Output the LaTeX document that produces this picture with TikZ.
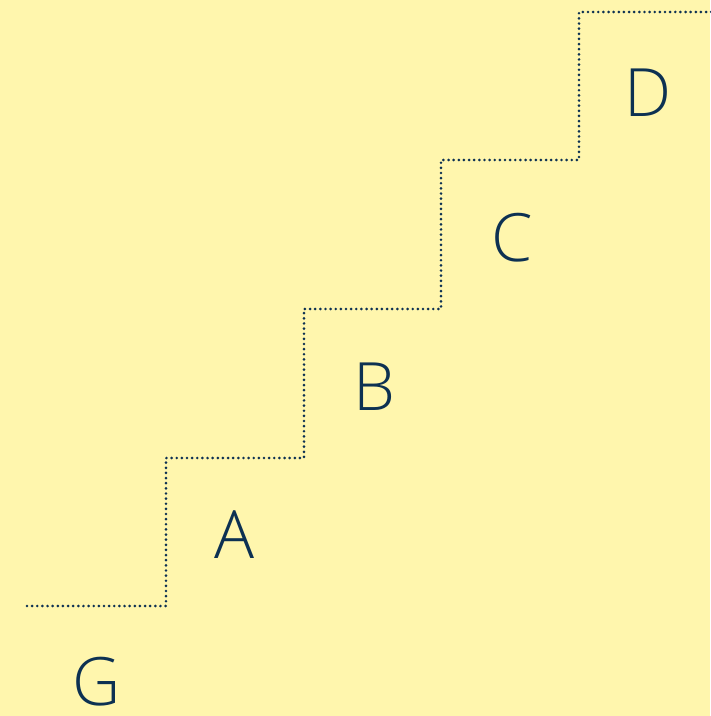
\documentclass[tikz,border=0pt]{standalone}
\usepackage{fontspec}
\setmainfont{Open Sans Light}
\definecolor{bg}{HTML}{FFF6AD}
\definecolor{ink}{HTML}{0D3152}
\begin{document}
\begin{tikzpicture}[x=0.75pt,y=-0.75pt,
  stair/.style={draw=ink,line width=2.2pt,line cap=round,dash pattern=on 0pt off 3.85pt},
  lbl/.style={text=ink,font=\fontsize{50}{50}\selectfont,inner sep=0pt,anchor=center}]
\fill[bg] (0,0) rectangle (710,716);
\useasboundingbox (0,0) rectangle (710,716);
\coordinate (s0) at (27,606);
\coordinate (s1) at (166,606);
\coordinate (s2) at (166,458);
\coordinate (s3) at (304,458);
\coordinate (s4) at (304,309);
\coordinate (s5) at (441,309);
\coordinate (s6) at (441,160);
\coordinate (s7) at (579,160);
\coordinate (s8) at (579,12);
\coordinate (s9) at (712,12);
\draw[stair] (s0) -- (s1) -- (s2) -- (s3) -- (s4) -- (s5) -- (s6) -- (s7) -- (s8) -- (s9);
\node[lbl] (G) at (96.5,682) {\vphantom{B}G};
\node[lbl] (A) at (234.5,535) {\vphantom{B}A};
\node[lbl] (B) at (374,387) {\vphantom{B}B};
\node[lbl] (C) at (512,238) {\vphantom{B}C};
\node[lbl] (D) at (648,93) {\vphantom{B}D};
\end{tikzpicture}
\end{document}
